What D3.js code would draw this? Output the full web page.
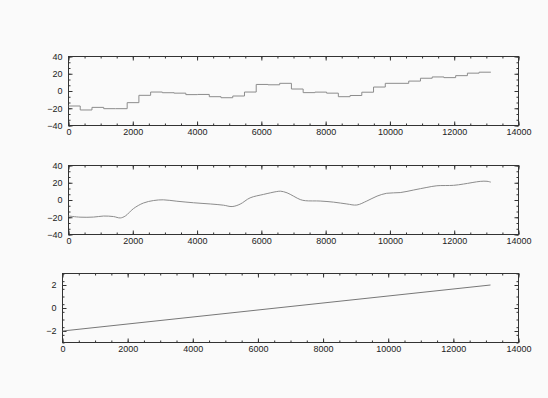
<!DOCTYPE html>
<html>
<head>
<meta charset="utf-8">
<script src="https://cdn.jsdelivr.net/npm/d3@7"></script>
<style>
body { margin: 0; background: #fafafa; }
text { font-family: "Liberation Sans", Arial, sans-serif; font-size: 9px; fill: #222; }
</style>
</head>
<body>
<svg width="548" height="398"></svg>
<script>
// x axis (days)
var xTicks = [0, 2000, 4000, 6000, 8000, 10000, 12000, 14000];
var xMinor = d3.range(0, 14001, 500);

// panel 1: yearly steps, one value per 365 day block
var stepValues = [-17.4, -22, -19, -20.5, -20.5, -13.5, -5, -1.2, -2, -2.5,
    -4.2, -4, -6.6, -7.8, -5.8, -1.2, 7.6, 7.2, 8.9, 2.3,
    -1.9, -1.3, -2.5, -6.6, -5.2, -1.4, 4.6, 8.9, 8.9, 11.5,
    14.8, 16.3, 15.5, 17.8, 20.7, 21.8];
var stepDays = d3.range(0, 13141, 365);   // block edges

// panel 2: smoothed curve
var smoothDays = [0, 360, 780, 1090, 1400, 1610, 1770, 2020, 2330, 2650,
    2950, 3370, 3890, 4410, 4820, 5090, 5340, 5650, 6070, 6480,
    6600, 6800, 7210, 7370, 7830, 8250, 8660, 8970, 9280, 9600,
    9900, 10320, 10740, 11150, 11460, 11980, 12290, 12810, 13020, 13140];
var smoothValues = [-18.5, -19.9, -19.8, -18.6, -19.2, -20.8, -18.5, -10, -3.5, -0.6,
    0.2, -1.4, -3.2, -4.6, -6, -7.6, -4.8, 2.5, 6.5, 9.8,
    10.2, 8.3, 0.5, -0.8, -1.2, -2.5, -4.6, -5.8, -1.2, 4.5,
    7.8, 8.6, 11.6, 14.6, 16.5, 17, 18.5, 21.6, 21.7, 20.7];

// panel 3: linear trend
var trendDays = [0, 13140];
var trendValues = [-2, 2];

var yTicksBig = [-40, -20, 0, 20, 40];
var yTicksSmall = [-2, 0, 2];

var svg = d3.select("svg");

function panel(box, yDomain, yTicks, yMinorStep, pts, curve, color) {
    var x = d3.scaleLinear().domain([0, 14000]).range([box.left, box.right]);
    var y = d3.scaleLinear().domain(yDomain).range([box.bottom, box.top]);
    var g = svg.append("g").attr("transform", "translate(0.5,0.5)");

    var yMinor = d3.range(yDomain[0], yDomain[1] + 1e-6, yMinorStep);

    // bottom ticks + labels
    g.append("g").attr("transform", "translate(0," + box.bottom + ")")
        .call(d3.axisBottom(x).tickValues(xTicks).tickSize(-4).tickPadding(3).tickFormat(d3.format("d")));
    g.append("g").attr("transform", "translate(0," + box.bottom + ")")
        .call(d3.axisBottom(x).tickValues(xMinor).tickSize(-2).tickFormat(""));
    // top ticks
    g.append("g").attr("transform", "translate(0," + box.top + ")")
        .call(d3.axisTop(x).tickValues(xTicks).tickSize(-4).tickFormat(""));
    g.append("g").attr("transform", "translate(0," + box.top + ")")
        .call(d3.axisTop(x).tickValues(xMinor).tickSize(-2).tickFormat(""));
    // left ticks + labels
    g.append("g").attr("transform", "translate(" + box.left + ",0)")
        .call(d3.axisLeft(y).tickValues(yTicks).tickSize(-4).tickPadding(6).tickFormat(d3.format("d")));
    g.append("g").attr("transform", "translate(" + box.left + ",0)")
        .call(d3.axisLeft(y).tickValues(yMinor).tickSize(-2).tickFormat(""));
    // right ticks
    g.append("g").attr("transform", "translate(" + box.right + ",0)")
        .call(d3.axisRight(y).tickValues(yTicks).tickSize(-4).tickFormat(""));
    g.append("g").attr("transform", "translate(" + box.right + ",0)")
        .call(d3.axisRight(y).tickValues(yMinor).tickSize(-2).tickFormat(""));

    g.selectAll(".domain").remove();
    g.selectAll(".tick line").attr("stroke", "#333");
    g.selectAll(".tick text").attr("fill", "#222").style("font-size", "9px");

    g.append("rect")
        .attr("x", box.left).attr("y", box.top)
        .attr("width", box.right - box.left).attr("height", box.bottom - box.top)
        .attr("fill", "none").attr("stroke", "#333").attr("stroke-width", 1);

    var line = d3.line()
        .x(function(d) { return x(d[0]); })
        .y(function(d) { return y(d[1]); })
        .curve(curve);
    g.append("path").datum(pts)
        .attr("d", line)
        .attr("fill", "none")
        .attr("stroke", color)
        .attr("stroke-width", 1);
}

var stepPts = stepValues.map(function(v, i) { return [stepDays[i], v]; });
stepPts.push([stepDays[stepValues.length], stepValues[stepValues.length - 1]]);
panel({left: 68, right: 518, top: 56, bottom: 125}, [-40, 40], yTicksBig, 20 / 3,
    stepPts, d3.curveStepAfter, "#8c8c8c");

var smoothPts = smoothDays.map(function(d, i) { return [d, smoothValues[i]]; });
panel({left: 68, right: 518, top: 165, bottom: 234}, [-40, 40], yTicksBig, 20 / 3,
    smoothPts, d3.curveCatmullRom, "#8c8c8c");

var trendPts = trendDays.map(function(d, i) { return [d, trendValues[i]]; });
panel({left: 62, right: 518, top: 273, bottom: 342}, [-3, 3], yTicksSmall, 2 / 3,
    trendPts, d3.curveLinear, "#777");
</script>
</body>
</html>
